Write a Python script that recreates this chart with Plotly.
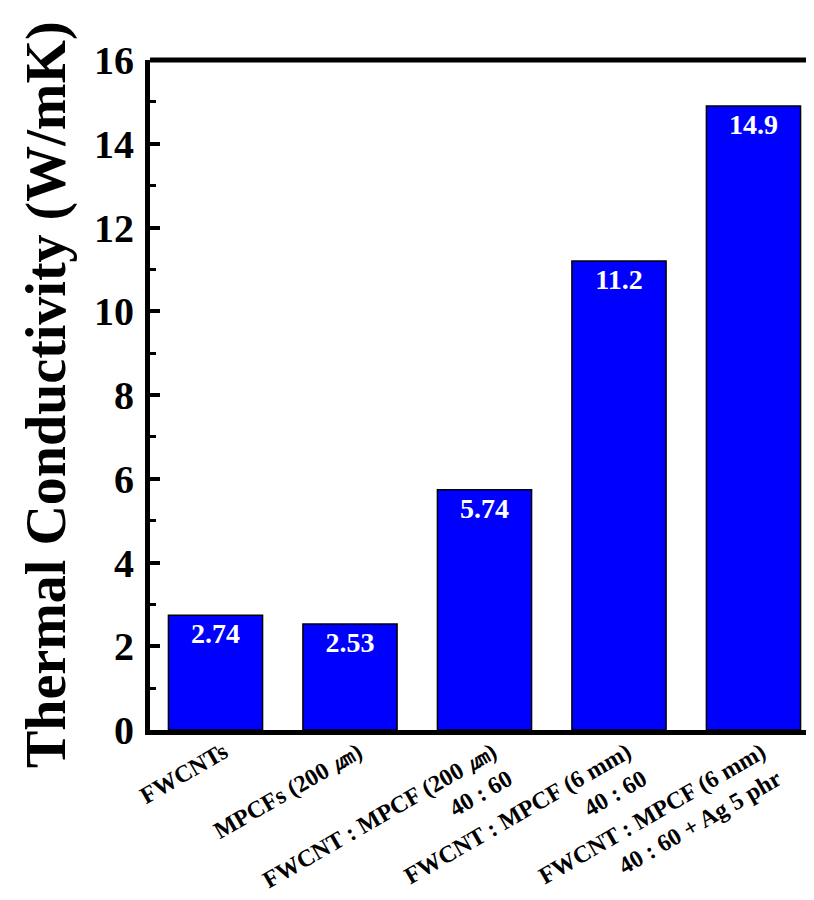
import plotly.graph_objects as go

categories = [
    "FWCNTs",
    "MPCFs (200 ㎛)",
    "FWCNT : MPCF (200 ㎛)<br>40 : 60",
    "FWCNT : MPCF (6 mm)<br>40 : 60",
    "FWCNT : MPCF (6 mm)<br>40 : 60 + Ag 5 phr",
]
values = [2.74, 2.53, 5.74, 11.2, 14.9]
value_labels = ["2.74", "2.53", "5.74", "11.2", "14.9"]
y_ticks = [0, 2, 4, 6, 8, 10, 12, 14, 16]

FONT = "Liberation Serif, Times New Roman, serif"

fig = go.Figure()
fig.add_trace(go.Bar(
    x=list(range(len(categories))),
    y=values,
    width=0.7,
    marker=dict(color="#0000FF", line=dict(color="black", width=1.5)),
    text=value_labels,
    textposition="inside",
    insidetextanchor="end",
    textangle=0,
    textfont=dict(family=FONT, size=28, color="white", weight="bold"),
    cliponaxis=False,
))

fig.update_layout(
    width=806, height=892,
    margin=dict(l=142, r=0, t=52, b=170),
    plot_bgcolor="white", paper_bgcolor="white",
    showlegend=False,
    font=dict(family=FONT, color="black"),
    xaxis=dict(
        range=[-0.487, 4.45],
        tickmode="array",
        tickvals=list(range(len(categories))),
        ticktext=categories,
        tickangle=-30,
        tickfont=dict(family=FONT, size=24, color="black", weight="bold"),
        ticklabelstandoff=-6,
        ticklabelshift=8,
        automargin=False,
        showline=True, linecolor="black", linewidth=5,
        ticks="", showgrid=False, zeroline=False,
    ),
    yaxis=dict(
        range=[0, 16],
        tickmode="array",
        tickvals=y_ticks,
        ticktext=[str(t) for t in y_ticks],
        ticks="inside", ticklen=10, tickwidth=4, tickcolor="black",
        minor=dict(ticks="inside", ticklen=6, tickwidth=3, tickcolor="black", dtick=1, showgrid=False),
        tickfont=dict(family=FONT, size=40, color="black", weight="bold"),
        ticklabelstandoff=3,
        automargin=False,
        showline=True, linecolor="black", linewidth=5,
        showgrid=False, zeroline=False,
    ),
    annotations=[dict(
        text="<b>Thermal Conductivity (W/mK)</b>",
        textangle=-90,
        xref="paper", yref="paper",
        x=0, y=0.5, xanchor="center", yanchor="middle",
        xshift=-104,
        showarrow=False,
        font=dict(family=FONT, size=56, color="black"),
    )],
    shapes=[dict(
        type="line", xref="paper", yref="paper",
        x0=0, x1=1, y0=1, y1=1,
        line=dict(color="black", width=5),
    )],
)

fig.write_html("out.html")
